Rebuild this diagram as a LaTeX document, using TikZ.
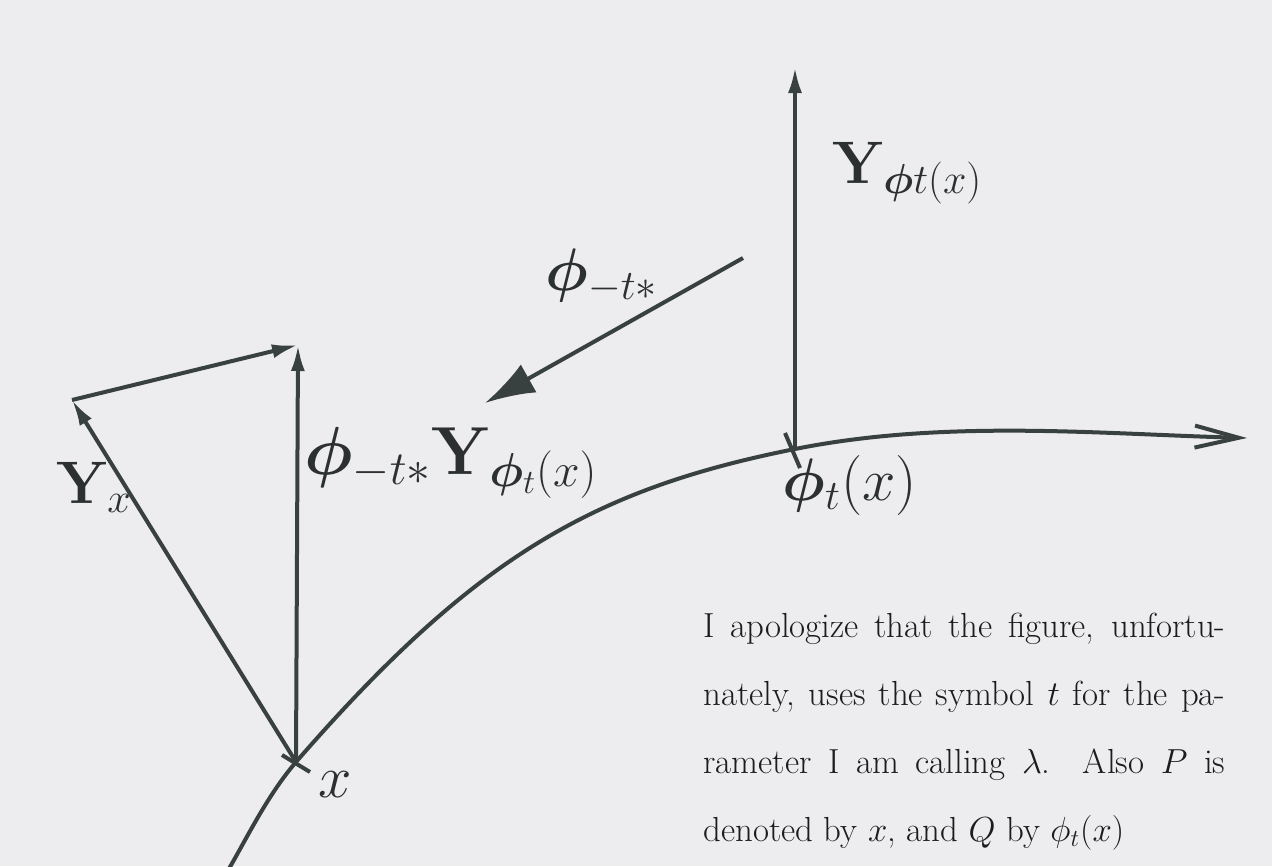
\RequirePackage{fix-cm}
\documentclass[tikz,border=0pt]{standalone}
\usepackage{bm}
\usetikzlibrary{arrows.meta}
\definecolor{bg}{HTML}{EDEDF0}
\definecolor{ink}{HTML}{384040}
\definecolor{labc}{HTML}{2C3030}
\definecolor{txtc}{HTML}{1C1C1C}
\begin{document}
\begin{tikzpicture}[x=0.5pt,y=-0.5pt,
  line/.style={draw=ink, line width=2pt},
  vec/.style={line, -{Latex[length=13pt,width=7pt]}},
  bigvec/.style={line, -{Latex[length=25pt,width=16pt]}},
  curvearrow/.style={line, -{Straight Barb[length=22pt,width=11pt,line width=2pt]}},
  lab/.style={font=\fontsize{30}{36}\selectfont, text=labc, inner sep=0pt, anchor=base west},
  para/.style={anchor=base west, inner sep=0pt, text width=261pt, align=justify,
    font=\fontsize{17.4}{34}\selectfont, text=txtc}]
\path[use as bounding box] (0,0) rectangle (1287,867);
\fill[bg] (0,0) rectangle (1272,866);

\coordinate (x) at (296,762);
\coordinate (q) at (795,449);
\coordinate (ytip) at (72,400);
\coordinate (ptip) at (298,345);
\coordinate (qtip) at (795,67);
\coordinate (fs) at (743,258);
\coordinate (ft) at (485,403);
\coordinate (cstart) at (227,872);
\coordinate (cend) at (1247,438);

% integral curve
\draw[curvearrow] (cstart) .. controls (245,842) and (266,797) .. (x)
  .. controls (476,555) and (595,489) .. (q)
  .. controls (945,419) and (1100,434) .. (cend);

% ticks on the curve
\draw[line] (x) ++(-14,-7) -- ++(28,17);
\draw[line] (q) ++(-10,-16) -- ++(15,35);

% vectors
\draw[vec] (x) -- (ptip);
\draw[vec] (x) -- (ytip);
\draw[vec] (ytip) -- (ptip);
\draw[vec] (q) -- (qtip);
\draw[bigvec] (fs) -- (ft);

% labels
\node[lab] (lx) at (318,797) {$x$};
\node[lab] (lyx) at (56,503) {$\mathbf{Y}_x$};
\node[lab] (lyq) at (832,183) {$\mathbf{Y}_{\bm{\phi} t(x)}$};
\node[lab] (lphi) at (545,290) {$\bm{\phi}_{-t*}$};
\node[lab, font=\fontsize{34}{40}\selectfont] (lpull) at (304,474) {$\bm{\phi}_{-t*}\mathbf{Y}_{\bm{\phi}_t(x)}$};
\node[lab] (lq) at (782,500) {$\bm{\phi}_t(x)$};

% caption text
\node[para] (txt) at (703,637) {I apologize that the figure, unfortu-\linebreak
nately, uses the symbol $t$ for the pa-\linebreak
rameter I am calling $\lambda$. Also $P$ is\linebreak
denoted by $x$, and $Q$ by $\phi_t(x)$};
\end{tikzpicture}
\end{document}
